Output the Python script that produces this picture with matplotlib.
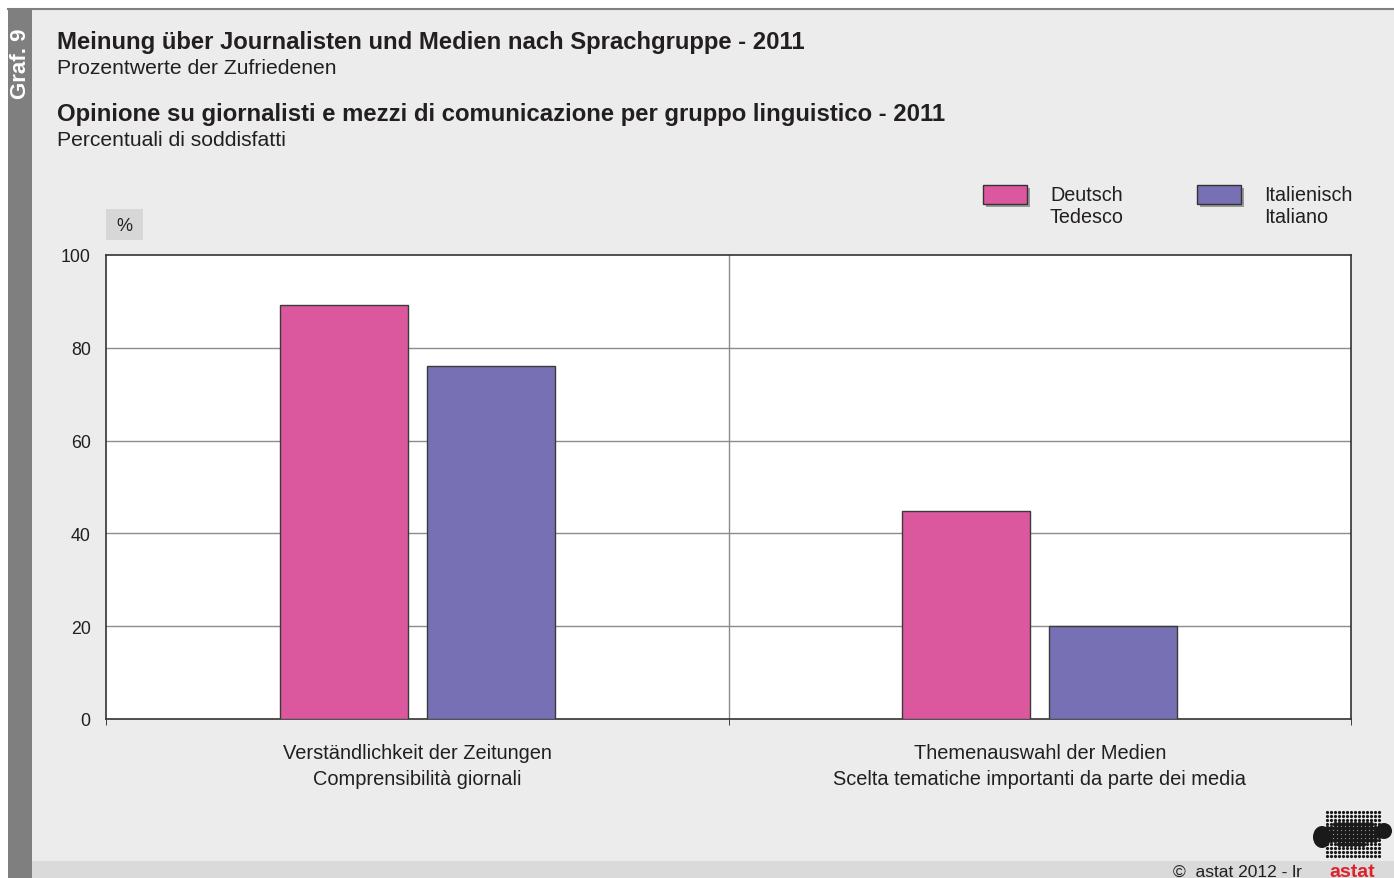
import numpy as np
import matplotlib.pyplot as plt
from matplotlib.patches import Rectangle, Ellipse

# data
categories = [
    "Verständlichkeit der Zeitungen\nComprensibilità giornali",
    "Themenauswahl der Medien\nScelta tematiche importanti da parte dei media",
]
series_names = ["Deutsch\nTedesco", "Italienisch\nItaliano"]
deutsch = [89.2, 44.9]
italienisch = [76.0, 20.1]
y_ticks = [0, 20, 40, 60, 80, 100]

COLORS = ["#DC589E", "#7870B4"]
BG = "#EBECEB"
TXT = "#231F20"
W, H = 1394, 879

plt.rcParams["font.family"] = ["Liberation Sans", "DejaVu Sans"]


def fx(x):
    return x / W


def fy(y):
    return 1 - y / H


fig = plt.figure(figsize=(W / 100, H / 100), dpi=100)
fig.patch.set_facecolor("white")

# background panel, left strip, footer band
fig.add_artist(Rectangle((fx(8), 0), fx(W - 8), fy(10), transform=fig.transFigure,
                         facecolor=BG, edgecolor="none", zorder=0))
fig.add_artist(Rectangle((fx(8), 0), fx(24), fy(10), transform=fig.transFigure,
                         facecolor="#7F7F7F", edgecolor="none", zorder=1))
fig.add_artist(Rectangle((fx(32), 0), fx(W - 32), (H - 862) / H, transform=fig.transFigure,
                         facecolor="#D9DAD9", edgecolor="none", zorder=1))
fig.add_artist(plt.Line2D([fx(8), 1], [fy(10), fy(10)], transform=fig.transFigure,
                          color="#7F7F7F", lw=1.5, zorder=2))
fig.text(fx(20), fy(64), "Graf. 9", rotation=90, color="white", fontsize=16,
         fontweight="bold", ha="center", va="center")

# titles
fig.text(fx(57), fy(42), "Meinung über Journalisten und Medien nach Sprachgruppe - 2011",
         fontsize=17.2, fontweight="bold", color=TXT, va="center")
fig.text(fx(57), fy(68), "Prozentwerte der Zufriedenen", fontsize=15.2, color=TXT, va="center")
fig.text(fx(57), fy(115), "Opinione su giornalisti e mezzi di comunicazione per gruppo linguistico - 2011",
         fontsize=17.2, fontweight="bold", color=TXT, va="center")
fig.text(fx(57), fy(140), "Percentuali di soddisfatti", fontsize=15.2, color=TXT, va="center")

# "%" box
fig.add_artist(Rectangle((fx(106), fy(241)), fx(37), 31 / H, transform=fig.transFigure,
                         facecolor="#D6D7D6", edgecolor="none", zorder=1))
fig.text(fx(124), fy(227), "%", fontsize=13, color=TXT, ha="center", va="center")

# legend drawn by hand (patch with shadow + two-line label)
for i, (name, col) in enumerate(zip(series_names, COLORS)):
    x0 = 983 + i * 214
    fig.add_artist(Rectangle((fx(x0 + 3), fy(208)), fx(44), 19 / H, transform=fig.transFigure,
                             facecolor="#9A9A9A", edgecolor="none", zorder=2))
    fig.add_artist(Rectangle((fx(x0), fy(205)), fx(44), 19 / H, transform=fig.transFigure,
                             facecolor=col, edgecolor="#333333", lw=1, zorder=3))
    fig.text(fx(x0 + 67), fy(186), name, fontsize=14.2, color=TXT, va="top",
             linespacing=1.22)

# chart
ax = fig.add_axes([fx(106), fy(720), fx(1245), 464 / H])
ax.set_zorder(5)
ax.set_facecolor("white")
x = np.arange(len(categories)) + 0.5
bw = 0.205
ax.bar(x - 0.118, deutsch, bw, color=COLORS[0], edgecolor="#3A3A3A", lw=1, zorder=3)
ax.bar(x + 0.118, italienisch, bw, color=COLORS[1], edgecolor="#3A3A3A", lw=1, zorder=3)

ax.set_xlim(0, 2)
ax.set_ylim(0, 100)
ax.set_yticks(y_ticks)
ax.set_yticklabels([str(v) for v in y_ticks], fontsize=12.8, color=TXT)
ax.tick_params(axis="y", length=0, pad=11)
ax.set_xticks(x)
ax.set_xticklabels(categories, fontsize=14.4, color=TXT, linespacing=1.5)
ax.tick_params(axis="x", which="major", length=0, pad=17)
ax.set_xticks([0, 1, 2], minor=True)
ax.tick_params(axis="x", which="minor", length=4, direction="out", color="#222222")

for v in y_ticks[1:-1]:
    ax.axhline(v, color="#8C8C8C", lw=1, zorder=1)
ax.axvline(1, color="#8C8C8C", lw=1, zorder=1)
for s in ax.spines.values():
    s.set_color("#333333")
    s.set_linewidth(1.2)

# footer and logo
fig.text(fx(1302), fy(872), "\u00a9  astat 2012 - lr", fontsize=12.5, color=TXT,
         ha="right", va="center")
fig.text(fx(1352), fy(873), "astat", fontsize=14, fontweight="bold", color="#E0202A",
         ha="center", va="center", zorder=6)
gx, gy = np.meshgrid(np.arange(1327, 1380, 4.0), np.arange(813, 861, 4.0))
fig.add_artist(plt.Line2D(fx(gx.ravel()), fy(gy.ravel()), transform=fig.transFigure,
                          ls="none", marker="o", ms=1.3, color="#1A1A1A", zorder=4))
blob = ((gx - 1352) / 28) ** 2 + ((gy - 834) / 13) ** 2 < 1
fig.add_artist(plt.Line2D(fx(gx[blob]), fy(gy[blob]), transform=fig.transFigure,
                          ls="none", marker="o", ms=2.6, color="#1A1A1A", zorder=4))
for cx, cy, ew, eh in [(1322, 838, 18, 22), (1384, 832, 16, 16)]:
    fig.add_artist(Ellipse((fx(cx), fy(cy)), ew / W, eh / H, transform=fig.transFigure,
                           facecolor="#1A1A1A", edgecolor="none", zorder=4))

fig.savefig("out.png", dpi=100, facecolor=fig.get_facecolor())
